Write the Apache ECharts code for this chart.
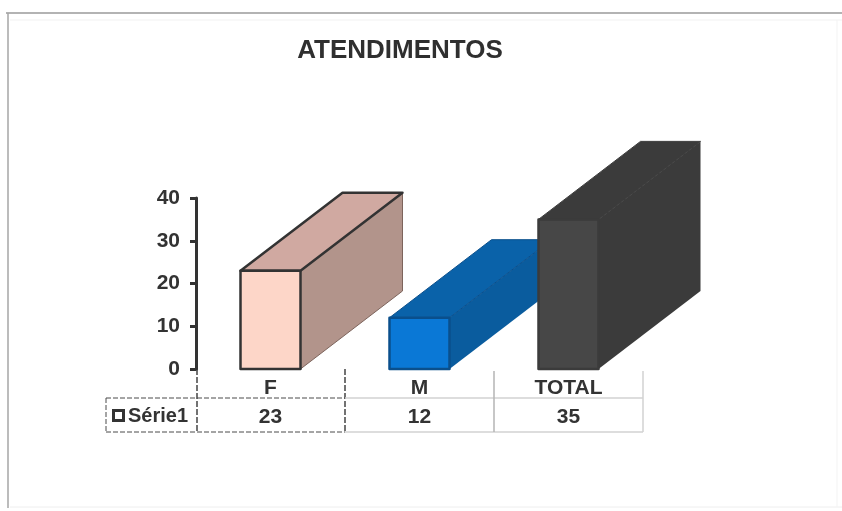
<!DOCTYPE html>
<html lang="en">
<head>
    <meta charset="UTF-8">
    <title>ATENDIMENTOS</title>
    <style>
        html, body { margin: 0; padding: 0; background: #fff; }
        #chart { width: 842px; height: 511px; }
    </style>
    <script src="https://cdn.jsdelivr.net/npm/echarts@6/dist/echarts.min.js"></script>
</head>
<body>
    <div id="chart"></div>
    <script>
      const categories = ['F', 'M', 'TOTAL'];
      const values = [23, 12, 35];
      const seriesName = 'Série1';

      // front, top, side, outline for each bar
      const barColors = [
        ['#fdd6c8', '#d0a9a1', '#b2948b', '#333333'],
        ['#0a78d6', '#0a62a9', '#0a5c9e', '#0a4f8c'],
        ['#474747', '#3b3b3b', '#3b3b3b', '#3b3b3b']
      ];

      const font = '"Liberation Sans", Arial, sans-serif';
      const depthX = 102, depthY = -78, barW = 60;
      const chart = echarts.init(document.getElementById('chart'));

      function renderBar(params, api) {
        const i = api.value(0);
        const top = api.coord([i, api.value(1)]);
        const base = api.coord([i, 0]);
        const c = barColors[i];
        const x0 = base[0] - barW / 2, x1 = base[0] + barW / 2;
        const y0 = base[1], y1 = top[1];
        const line = { stroke: c[3], lineWidth: 2.5, lineJoin: 'round' };
        const poly = (points, fill, stroke) => ({
          type: 'polygon',
          shape: { points: points },
          style: Object.assign({ fill: fill }, stroke)
        });
        return {
          type: 'group',
          children: [
            poly([[x1, y0], [x1 + depthX, y0 + depthY], [x1 + depthX, y1 + depthY], [x1, y1]], c[2], i === 0 ? { stroke: '#7d645c', lineWidth: 1 } : {}),
            poly([[x0, y1], [x0 + depthX, y1 + depthY], [x1 + depthX, y1 + depthY], [x1, y1]], c[1], i === 0 ? line : { stroke: c[3], lineWidth: 1 }),
            poly([[x0, y0], [x1, y0], [x1, y1], [x0, y1]], c[0], line)
          ]
        };
      }

      // table under the axis
      const dark = { stroke: '#4a4a4a', lineWidth: 1, lineDash: [5, 2] };
      const light = { stroke: '#d2d2d2', lineWidth: 1.5 };
      const seg = (x1, y1, x2, y2, style) => ({
        type: 'line', shape: { x1, y1, x2, y2 }, style, silent: true
      });
      const tableLines = [
        seg(106, 398, 345, 398, dark),
        seg(106, 432, 345, 432, dark),
        seg(106, 398, 106, 432, dark),
        seg(197, 369, 197, 432, { stroke: '#444', lineWidth: 1.5, lineDash: [6, 2] }),
        seg(345, 369, 345, 432, { stroke: '#444', lineWidth: 1.5, lineDash: [6, 2] }),
        seg(345, 398, 643, 398, light),
        seg(345, 432, 643, 432, light),
        seg(494, 371, 494, 432, { stroke: '#b5b5b5', lineWidth: 1.5 }),
        seg(643, 371, 643, 432, light)
      ];

      // scan frame
      const frameLines = [
        seg(6, 13, 842, 13, { stroke: '#9a9a9a', lineWidth: 1.5 }),
        seg(8, 13, 8, 508, { stroke: '#a6a6a6', lineWidth: 1.5 }),
        seg(10, 20, 842, 20, { stroke: '#f1f1f1', lineWidth: 1 }),
        seg(10, 507, 842, 507, { stroke: '#eeeeee', lineWidth: 1 }),
        seg(837, 20, 837, 507, { stroke: '#f3f3f3', lineWidth: 1 })
      ];

      chart.setOption({
        animation: false,
        backgroundColor: '#ffffff',
        title: {
          text: 'ATENDIMENTOS',
          left: 395,
          top: 33,
          textAlign: 'center',
          textStyle: { fontFamily: font, fontSize: 26, fontWeight: 'bold', color: '#2f2f2f' }
        },
        grid: { left: 196, top: 198, width: 447, height: 171, containLabel: false },
        xAxis: [{
          type: 'category',
          data: categories,
          axisLine: { show: false },
          axisTick: { show: false },
          axisLabel: { fontFamily: font, fontSize: 21, fontWeight: 'bold', color: '#333', margin: 9 }
        }, {
          type: 'category',
          position: 'bottom',
          offset: 29,
          data: values.map(String),
          axisLine: { show: false },
          axisTick: { show: false },
          axisLabel: { fontFamily: font, fontSize: 21, fontWeight: 'bold', color: '#333', margin: 9 }
        }],
        yAxis: {
          type: 'value',
          min: 0,
          max: 40,
          interval: 10,
          splitLine: { show: false },
          axisLine: { show: true, lineStyle: { color: '#333', width: 3 } },
          axisTick: { show: true, length: 6, lineStyle: { color: '#333', width: 3 } },
          axisLabel: {
            fontFamily: font, fontSize: 21, fontWeight: 'bold', color: '#333', margin: 16,
            padding: [5, 0, 0, 0]
          }
        },
        series: [{
          type: 'custom',
          name: seriesName,
          coordinateSystem: 'cartesian2d',
          clip: false,
          data: values.map((v, i) => [i, v]),
          encode: { x: 0, y: 1 },
          renderItem: renderBar
        }],
        graphic: [
          ...frameLines,
          ...tableLines,
          { type: 'rect', shape: { x: 113.5, y: 410.5, width: 10, height: 10 }, style: { fill: '#fff', stroke: '#333', lineWidth: 3 } },
          {
            type: 'text', x: 128, y: 416,
            style: { text: seriesName, fontFamily: font, fontSize: 20, fontWeight: 'bold', fill: '#333', verticalAlign: 'middle' }
          }
        ]
      });
    </script>
</body>
</html>
